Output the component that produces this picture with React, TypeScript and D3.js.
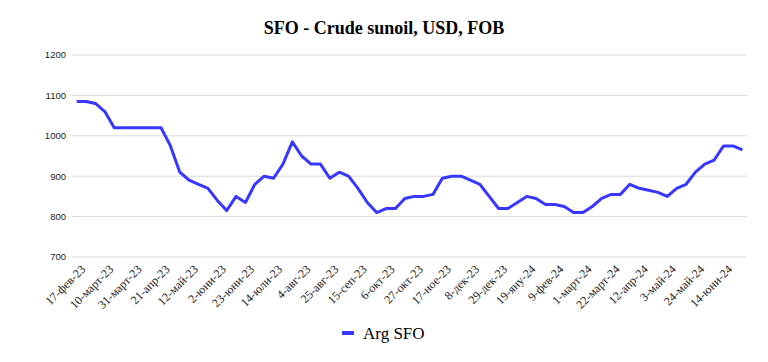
import React from "react";
import * as d3 from "d3";

const categories: string[] = [
  "17-фев-23", "24-фев-23", "3-март-23", "10-март-23", "17-март-23", "24-март-23", "31-март-23",
  "7-апр-23", "14-апр-23", "21-апр-23", "28-апр-23", "5-май-23", "12-май-23", "19-май-23", "26-май-23",
  "2-юни-23", "9-юни-23", "16-юни-23", "23-юни-23", "30-юни-23", "7-юли-23", "14-юли-23", "21-юли-23", "28-юли-23",
  "4-авг-23", "11-авг-23", "18-авг-23", "25-авг-23", "1-сеп-23", "8-сеп-23", "15-сеп-23", "22-сеп-23", "29-сеп-23",
  "6-окт-23", "13-окт-23", "20-окт-23", "27-окт-23", "3-ное-23", "10-ное-23", "17-ное-23", "24-ное-23",
  "1-дек-23", "8-дек-23", "15-дек-23", "22-дек-23", "29-дек-23", "5-яну-24", "12-яну-24", "19-яну-24", "26-яну-24",
  "2-фев-24", "9-фев-24", "16-фев-24", "23-фев-24", "1-март-24", "8-март-24", "15-март-24", "22-март-24", "29-март-24",
  "5-апр-24", "12-апр-24", "19-апр-24", "26-апр-24", "3-май-24", "10-май-24", "17-май-24", "24-май-24", "31-май-24",
  "7-юни-24", "14-юни-24", "21-юни-24", "28-юни-24",
];

const argSFO: number[] = [
  1085, 1085, 1080, 1060, 1020, 1020, 1020, 1020, 1020, 1020, 975, 910, 890, 880, 870,
  840, 815, 850, 835, 880, 900, 895, 930, 985, 950, 930, 930, 895, 910, 900, 870, 835, 810,
  820, 820, 845, 850, 850, 855, 895, 900, 900, 890, 880, 850, 820, 820, 835, 850, 845,
  830, 830, 825, 810, 810, 825, 845, 855, 855, 880, 870, 865, 860, 850, 870, 880, 910,
  930, 940, 975, 975, 965,
];

const yTicks: number[] = [700, 800, 900, 1000, 1100, 1200];
const tickEvery = 3;

const W = 768;
const H = 362;
const plot = { left: 72, right: 747, top: 55, bottom: 257 };

export default function App() {
  const x = d3
    .scalePoint<number>()
    .domain(d3.range(categories.length))
    .range([plot.left, plot.right])
    .padding(0.5);
  const y = d3.scaleLinear().domain([700, 1200]).range([plot.bottom, plot.top]);
  const line = d3
    .line<number>()
    .x((_, i) => x(i) as number)
    .y((d) => y(d));

  const tickIdx = d3.range(0, categories.length, tickEvery);

  return (
    <div style={{ position: "absolute", left: 0, top: 0 }}>
      <svg width={W} height={H} style={{ display: "block", background: "#fff" }}>
        <text
          x={W / 2}
          y={34}
          textAnchor="middle"
          fontFamily="'Liberation Serif', 'Times New Roman', serif"
          fontWeight="bold"
          fontSize={18}
          fill="#000"
        >
          SFO - Crude sunoil, USD, FOB
        </text>
        {yTicks.map((t) => (
          <g key={t}>
            <line x1={plot.left} x2={plot.right} y1={y(t)} y2={y(t)} stroke="#d9d9d9" strokeWidth={1} />
            <text
              x={66}
              y={y(t)}
              dy="0.35em"
              textAnchor="end"
              fontFamily="'Liberation Sans', Arial, sans-serif"
              fontSize={9.5}
              fill="#222"
            >
              {t}
            </text>
          </g>
        ))}
        <path d={line(argSFO) || ""} fill="none" stroke="#3737ff" strokeWidth={3} strokeLinejoin="round" />
        {tickIdx.map((i) => {
          const px = (x(i) as number) + 6.5;
          const py = 267;
          return (
            <text
              key={i}
              transform={`translate(${px},${py}) rotate(-45)`}
              textAnchor="end"
              dy="0.35em"
              fontFamily="'Liberation Serif', 'Times New Roman', serif"
              fontSize={12}
              fill="#222"
            >
              {categories[i]}
            </text>
          );
        })}
        <line x1={342} x2={354} y1={333} y2={333} stroke="#3737ff" strokeWidth={4} />
        <text
          x={363}
          y={333}
          dy="0.35em"
          fontFamily="'Liberation Serif', 'Times New Roman', serif"
          fontSize={17}
          fill="#000"
        >
          Arg SFO
        </text>
      </svg>
    </div>
  );
}
